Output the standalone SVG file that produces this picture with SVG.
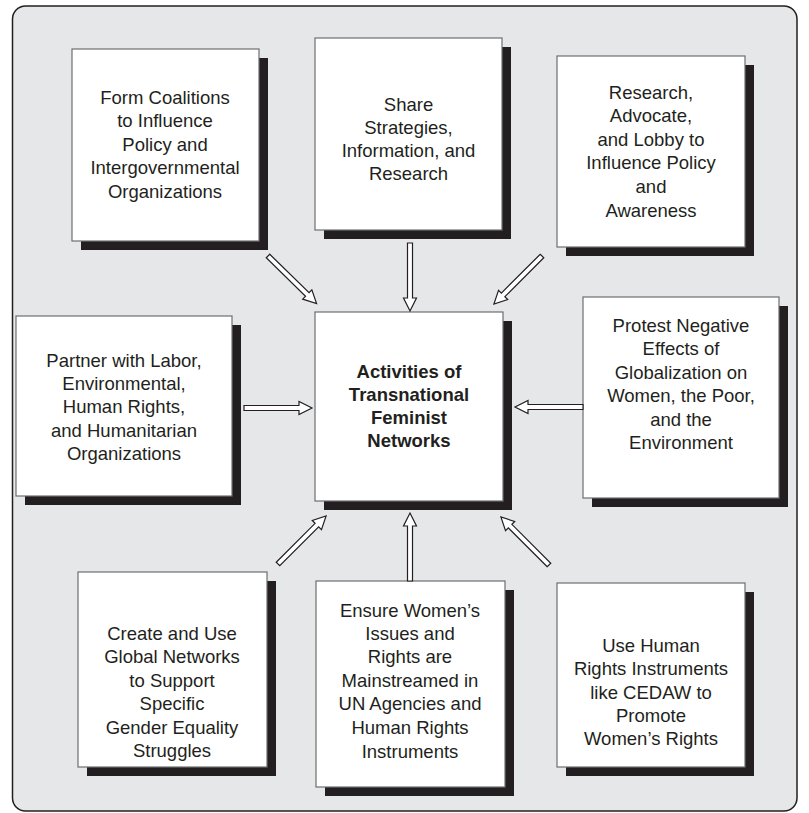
<svg xmlns="http://www.w3.org/2000/svg" width="809" height="813" viewBox="0 0 809 813">
<defs>
<style>
.panel{fill:#e6e7e8;stroke:#231f20;stroke-width:1.5}
.shadow{fill:#231f20}
.box{fill:#ffffff;stroke:#6d6e71;stroke-width:1.2}
.t{font-family:"Liberation Sans",Arial,sans-serif;font-size:18.5px;fill:#231f20;text-anchor:middle}
.b{font-weight:bold}
.arrow{fill:#ffffff;stroke:#231f20;stroke-width:1.2;stroke-linejoin:miter}
</style>
<path id="arr" class="arrow" d="M0,-2.5 L55,-2.5 L55,-6.5 L68,0 L55,6.5 L55,2.5 L0,2.5 Z"/>
</defs>
<rect class="panel" x="12.5" y="6" width="784.5" height="805" rx="13" ry="13"/>

<g id="n-coalitions">
<rect class="shadow" x="81" y="58" width="187" height="192"/>
<rect class="box" x="72" y="49" width="187" height="192"/>
<text class="t" x="165" y="103.5">Form Coalitions</text>
<text class="t" x="165" y="127">to Influence</text>
<text class="t" x="165" y="150.5">Policy and</text>
<text class="t" x="165" y="174">Intergovernmental</text>
<text class="t" x="165" y="197.5">Organizations</text>
</g>

<g id="n-share">
<rect class="shadow" x="324" y="47" width="187" height="192"/>
<rect class="box" x="315" y="38" width="187" height="192"/>
<text class="t" x="408.5" y="110.5">Share</text>
<text class="t" x="408.5" y="133.5">Strategies,</text>
<text class="t" x="408.5" y="156.5">Information, and</text>
<text class="t" x="408.5" y="179.5">Research</text>
</g>

<g id="n-research">
<rect class="shadow" x="566" y="65" width="188" height="191"/>
<rect class="box" x="557" y="56" width="188" height="191"/>
<text class="t" x="651" y="98.5">Research,</text>
<text class="t" x="651" y="121.5">Advocate,</text>
<text class="t" x="651" y="145.5">and Lobby to</text>
<text class="t" x="651" y="168.5">Influence Policy</text>
<text class="t" x="651" y="192.5">and</text>
<text class="t" x="651" y="216.5">Awareness</text>
</g>

<g id="n-partner">
<rect class="shadow" x="25" y="325" width="216" height="180"/>
<rect class="box" x="16" y="316" width="216" height="180"/>
<text class="t" x="124" y="366.5">Partner with Labor,</text>
<text class="t" x="124" y="389.5">Environmental,</text>
<text class="t" x="124" y="412.5">Human Rights,</text>
<text class="t" x="124" y="436.5">and Humanitarian</text>
<text class="t" x="124" y="459.5">Organizations</text>
</g>

<g id="n-center">
<rect class="shadow" x="324" y="321" width="188" height="189"/>
<rect class="box" x="315" y="312" width="188" height="189"/>
<text class="t b" x="409" y="377.5">Activities of</text>
<text class="t b" x="409" y="400.5">Transnational</text>
<text class="t b" x="409" y="423.5">Feminist</text>
<text class="t b" x="409" y="446.5">Networks</text>
</g>

<g id="n-protest">
<rect class="shadow" x="592" y="306" width="196" height="201"/>
<rect class="box" x="583" y="297" width="196" height="201"/>
<text class="t" x="681" y="331.5">Protest Negative</text>
<text class="t" x="681" y="354.5">Effects of</text>
<text class="t" x="681" y="378.5">Globalization on</text>
<text class="t" x="681" y="401.5">Women, the Poor,</text>
<text class="t" x="681" y="425.5">and the</text>
<text class="t" x="681" y="448.5">Environment</text>
</g>

<g id="n-create">
<rect class="shadow" x="87" y="581" width="189" height="195"/>
<rect class="box" x="78" y="572" width="189" height="195"/>
<text class="t" x="172" y="639.5">Create and Use</text>
<text class="t" x="172" y="662.5">Global Networks</text>
<text class="t" x="172" y="686.5">to Support</text>
<text class="t" x="172" y="709.5">Specific</text>
<text class="t" x="172" y="733.5">Gender Equality</text>
<text class="t" x="172" y="756.5">Struggles</text>
</g>

<g id="n-ensure">
<rect class="shadow" x="325" y="590" width="189" height="206"/>
<rect class="box" x="316" y="581" width="189" height="206"/>
<text class="t" x="410" y="616.5">Ensure Women’s</text>
<text class="t" x="410" y="639.5">Issues and</text>
<text class="t" x="410" y="662.5">Rights are</text>
<text class="t" x="410" y="686.5">Mainstreamed in</text>
<text class="t" x="410" y="709.5">UN Agencies and</text>
<text class="t" x="410" y="733.5">Human Rights</text>
<text class="t" x="410" y="757.5">Instruments</text>
</g>

<g id="n-cedaw">
<rect class="shadow" x="566" y="592" width="188" height="184"/>
<rect class="box" x="557" y="583" width="188" height="184"/>
<text class="t" x="651" y="651.5">Use Human</text>
<text class="t" x="651" y="674.5">Rights Instruments</text>
<text class="t" x="651" y="698.5">like CEDAW to</text>
<text class="t" x="651" y="721.5">Promote</text>
<text class="t" x="651" y="744.5">Women’s Rights</text>
</g>

<g id="connectors">
<use href="#arr" transform="translate(268,256) rotate(44.4)"/>
<use href="#arr" transform="translate(410,243) rotate(90)"/>
<use href="#arr" transform="translate(542,256) rotate(135)"/>
<use href="#arr" transform="translate(244,408)"/>
<use href="#arr" transform="translate(583,407) rotate(180)"/>
<use href="#arr" transform="translate(278,564) rotate(-45)"/>
<use href="#arr" transform="translate(410,581) rotate(-90)"/>
<use href="#arr" transform="translate(549,565) rotate(-135)"/>
</g>
</svg>
